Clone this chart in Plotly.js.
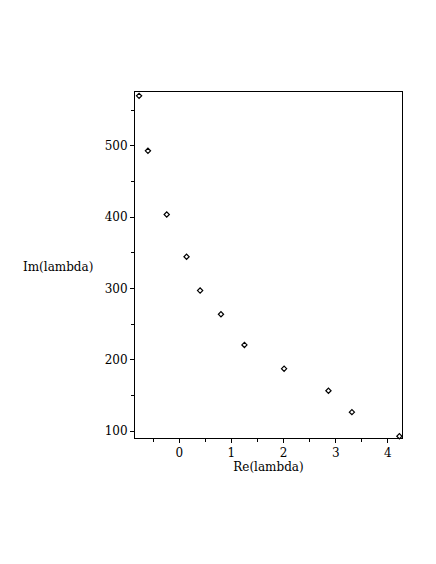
<!DOCTYPE html>
<html>
<head>
<meta charset="utf-8">
<script src="https://cdn.plot.ly/plotly-3.0.1.min.js"></script>
<style>html,body{margin:0;padding:0;background:#fff;}</style>
</head>
<body>
<div id="chart" style="width:436px;height:564px;"></div>
<script>
var reLambda = [-0.77, -0.60, -0.24, 0.14, 0.40, 0.80, 1.25, 2.01, 2.86, 3.31, 4.22];
var imLambda = [570, 493, 403.7, 344.5, 297.2, 264, 221, 187.7, 156.8, 126.8, 93];
var xTicks = [0, 1, 2, 3, 4];
var yTicks = [100, 200, 300, 400, 500];

var fontFam = "DejaVu Serif, serif";
var trace = {
  x: reLambda, y: imLambda, type: 'scatter', mode: 'markers',
  marker: {symbol: 'diamond-open', size: 4, color: '#000', line: {width: 1.2, color: '#000'}},
  hoverinfo: 'skip', cliponaxis: false
};
var layout = {
  width: 436, height: 564,
  margin: {l: 135, r: 34, t: 92, b: 126},
  paper_bgcolor: '#fff', plot_bgcolor: '#fff',
  showlegend: false,
  font: {family: fontFam, size: 12, color: '#000'},
  xaxis: {
    range: [-0.848, 4.27], tickvals: xTicks, ticktext: xTicks.map(String),
    ticks: 'outside', ticklen: 4, tickwidth: 1, tickcolor: '#000',
    showgrid: false, zeroline: false, showline: true, linecolor: '#000', linewidth: 1, mirror: true,
    minor: {dtick: 0.5, tick0: 0, ticks: 'outside', ticklen: 3, tickcolor: '#000', showgrid: false},
    tickfont: {family: fontFam, size: 12, color: '#000'},
    title: {text: 'Re(lambda)', font: {family: fontFam, size: 12, color: '#000'}, standoff: 2}
  },
  yaxis: {
    range: [90.6, 575.4], tickvals: yTicks, ticktext: yTicks.map(String),
    ticks: 'outside', ticklen: 4, tickwidth: 1, tickcolor: '#000',
    showgrid: false, zeroline: false, showline: true, linecolor: '#000', linewidth: 1, mirror: true,
    minor: {dtick: 50, tick0: 0, ticks: 'outside', ticklen: 3, tickcolor: '#000', showgrid: false},
    tickfont: {family: fontFam, size: 12, color: '#000'}
  },
  annotations: [{
    text: 'Im(lambda)', xref: 'paper', yref: 'paper', x: -0.288, y: 0.495,
    xanchor: 'center', yanchor: 'middle', showarrow: false,
    font: {family: fontFam, size: 12, color: '#000'}
  }]
};
Plotly.newPlot('chart', [trace], layout, {displayModeBar: false, staticPlot: true});
</script>
</body>
</html>
